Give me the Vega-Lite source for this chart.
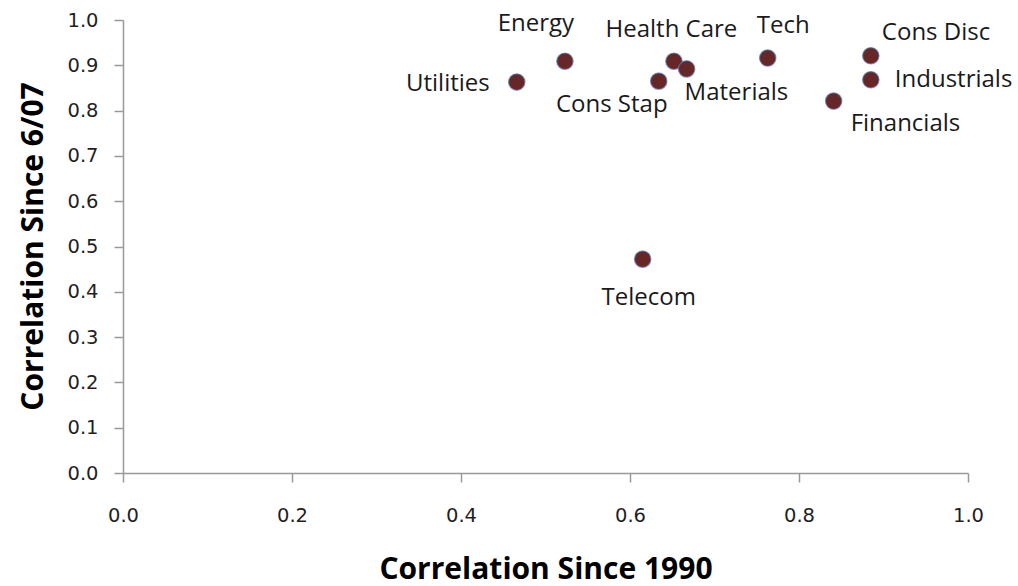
{
  "$schema": "https://vega.github.io/schema/vega-lite/v6.json",
  "width": 845,
  "height": 453,
  "autosize": {"type": "none"},
  "padding": {"left": 123, "top": 20, "right": 50, "bottom": 113},
  "background": "white",
  "config": {
    "view": {"stroke": null},
    "axis": {
      "grid": false,
      "domainColor": "#999999",
      "domainWidth": 1.5,
      "tickColor": "#999999",
      "tickWidth": 1.5,
      "tickSize": 9,
      "labelFlush": false,
      "labelFont": "DejaVu Sans",
      "labelFontSize": 19.5,
      "labelColor": "#1f1f1f",
      "titleFont": "Open Sans",
      "titleFontWeight": "bold",
      "titleFontSize": 30,
      "titleColor": "#000000"
    }
  },
  "data": {
    "values": [
      {"sector": "Utilities", "since1990": 0.466, "since607": 0.863},
      {"sector": "Energy", "since1990": 0.523, "since607": 0.909},
      {"sector": "Health Care", "since1990": 0.652, "since607": 0.909},
      {"sector": "Materials", "since1990": 0.667, "since607": 0.892},
      {"sector": "Cons Stap", "since1990": 0.634, "since607": 0.865},
      {"sector": "Tech", "since1990": 0.763, "since607": 0.916},
      {"sector": "Cons Disc", "since1990": 0.885, "since607": 0.921},
      {"sector": "Industrials", "since1990": 0.885, "since607": 0.868},
      {"sector": "Financials", "since1990": 0.841, "since607": 0.821},
      {"sector": "Telecom", "since1990": 0.615, "since607": 0.472}
    ]
  },
  "encoding": {
    "x": {
      "field": "since1990",
      "type": "quantitative",
      "scale": {"domain": [0, 1], "nice": false, "zero": false},
      "axis": {
        "title": "Correlation Since 1990",
        "values": [0, 0.2, 0.4, 0.6, 0.8, 1.0],
        "format": ".1f",
        "labelPadding": 24,
        "titleX": 422.5,
        "titleY": 105,
        "titleBaseline": "alphabetic"
      }
    },
    "y": {
      "field": "since607",
      "type": "quantitative",
      "scale": {"domain": [0, 1], "nice": false, "zero": false},
      "axis": {
        "title": "Correlation Since 6/07",
        "values": [0, 0.1, 0.2, 0.3, 0.4, 0.5, 0.6, 0.7, 0.8, 0.9, 1.0],
        "format": ".1f",
        "labelPadding": 16,
        "titleX": -81,
        "titleY": 226,
        "titleAngle": -90,
        "titleBaseline": "alphabetic",
        "titleAlign": "center"
      }
    }
  },
  "layer": [
    {
      "mark": {"type": "circle", "size": 270, "color": "#672727", "opacity": 1, "stroke": "#5b7fb8", "strokeWidth": 1.2, "strokeOpacity": 0.7}
    },
    {
      "transform": [{"filter": "datum.sector == 'Energy'"}],
      "mark": {"type": "text", "font": "Open Sans", "fontSize": 24, "color": "#1a1a1a", "align": "center", "baseline": "middle", "dx": -29, "dy": -37.5},
      "encoding": {"text": {"field": "sector"}}
    },
    {
      "transform": [{"filter": "datum.sector == 'Health Care'"}],
      "mark": {"type": "text", "font": "Open Sans", "fontSize": 24, "color": "#1a1a1a", "align": "center", "baseline": "middle", "dx": -2.5, "dy": -31},
      "encoding": {"text": {"field": "sector"}}
    },
    {
      "transform": [{"filter": "datum.sector == 'Tech'"}],
      "mark": {"type": "text", "font": "Open Sans", "fontSize": 24, "color": "#1a1a1a", "align": "center", "baseline": "middle", "dx": 15.5, "dy": -32},
      "encoding": {"text": {"field": "sector"}}
    },
    {
      "transform": [{"filter": "datum.sector == 'Utilities'"}],
      "mark": {"type": "text", "font": "Open Sans", "fontSize": 24, "color": "#1a1a1a", "align": "right", "baseline": "middle", "dx": -27, "dy": 2},
      "encoding": {"text": {"field": "sector"}}
    },
    {
      "transform": [{"filter": "datum.sector == 'Cons Stap'"}],
      "mark": {"type": "text", "font": "Open Sans", "fontSize": 24, "color": "#1a1a1a", "align": "center", "baseline": "middle", "dx": -47, "dy": 24},
      "encoding": {"text": {"field": "sector"}}
    },
    {
      "transform": [{"filter": "datum.sector == 'Materials'"}],
      "mark": {"type": "text", "font": "Open Sans", "fontSize": 24, "color": "#1a1a1a", "align": "left", "baseline": "middle", "dx": -2, "dy": 24.5},
      "encoding": {"text": {"field": "sector"}}
    },
    {
      "transform": [{"filter": "datum.sector == 'Cons Disc'"}],
      "mark": {"type": "text", "font": "Open Sans", "fontSize": 24, "color": "#1a1a1a", "align": "left", "baseline": "middle", "dx": 11, "dy": -23},
      "encoding": {"text": {"field": "sector"}}
    },
    {
      "transform": [{"filter": "datum.sector == 'Industrials'"}],
      "mark": {"type": "text", "font": "Open Sans", "fontSize": 24, "color": "#1a1a1a", "align": "left", "baseline": "middle", "dx": 24, "dy": 0},
      "encoding": {"text": {"field": "sector"}}
    },
    {
      "transform": [{"filter": "datum.sector == 'Financials'"}],
      "mark": {"type": "text", "font": "Open Sans", "fontSize": 24, "color": "#1a1a1a", "align": "left", "baseline": "middle", "dx": 17, "dy": 22.5},
      "encoding": {"text": {"field": "sector"}}
    },
    {
      "transform": [{"filter": "datum.sector == 'Telecom'"}],
      "mark": {"type": "text", "font": "Open Sans", "fontSize": 24, "color": "#1a1a1a", "align": "center", "baseline": "middle", "dx": 6, "dy": 38.5},
      "encoding": {"text": {"field": "sector"}}
    }
  ]
}
